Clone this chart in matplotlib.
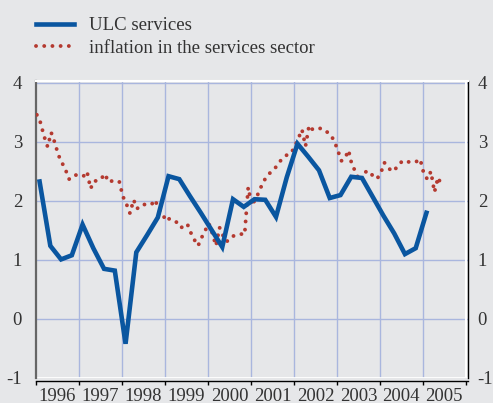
import numpy as np
import pandas as pd
import matplotlib
matplotlib.use("Agg")
from matplotlib import pyplot as plt

# ULC services, quarterly, 1996Q1 - 2005Q1
ulc = [2.33, 1.24, 1.01, 1.08,
       1.60, 1.20, 0.85, 0.82,
       -0.42, 1.13, 1.42, 1.72,
       2.42, 2.37, 2.08, 1.80,
       1.51, 1.22, 2.03, 1.90,
       2.03, 2.02, 1.73, 2.40,
       2.97, 2.75, 2.52, 2.05,
       2.10, 2.41, 2.39, 2.07,
       1.75, 1.45, 1.10, 1.20,
       1.80]

# inflation in the services sector, monthly, Jan 1996 - Jun 2005
infl = [3.46, 3.33, 3.10, 2.92, 3.16, 2.99, 2.78, 2.65, 2.53, 2.37, 2.43, 2.44,
        2.42, 2.42, 2.50, 2.21, 2.34, 2.34, 2.38, 2.46, 2.32, 2.34, 2.33, 2.33,
        2.08, 1.95, 1.79, 2.02, 1.87, 1.93, 1.94, 1.94, 1.94, 2.02, 1.86, 1.80,
        1.66, 1.70, 1.68, 1.64, 1.55, 1.56, 1.61, 1.46, 1.34, 1.24, 1.38, 1.50,
        1.62, 1.45, 1.24, 1.55, 1.41, 1.31, 1.38, 1.41, 1.43, 1.44, 1.43, 2.23,
        1.92, 2.03, 2.15, 2.30, 2.40, 2.47, 2.53, 2.59, 2.68, 2.74, 2.79, 2.81,
        2.93, 3.06, 3.21, 2.93, 3.28, 3.21, 3.21, 3.23, 3.22, 3.17, 3.12, 3.02,
        2.86, 2.68, 2.72, 2.86, 2.60, 2.50, 2.34, 2.46, 2.50, 2.50, 2.40, 2.38,
        2.47, 2.65, 2.58, 2.50, 2.54, 2.60, 2.68, 2.67, 2.66, 2.65, 2.67, 2.71,
        2.47, 2.37, 2.50, 2.15, 2.40, 2.26]

years = list(range(1996, 2006))
yticks = [-1, 0, 1, 2, 3, 4]

q = pd.period_range("1996Q1", periods=len(ulc), freq="Q")
x_ulc = q.year + (q.quarter - 1) / 4 + 1 / 12
m = pd.period_range("1996-01", periods=len(infl), freq="M")
x_infl = m.year + (m.month - 1) / 12 + 0.02

bg = "#e6e7e9"
blue = "#0a56a0"
red = "#b43a30"
gridc = "#a9b6de"
txt = "#333333"

plt.rcParams["font.family"] = ["Liberation Serif", "DejaVu Serif"]
plt.rcParams["font.size"] = 13.5

fig = plt.figure(figsize=(4.93, 4.03), dpi=100, facecolor=bg)
ax = fig.add_axes([36 / 493, 1 - 378 / 403, 432 / 493, (378 - 81.2) / 403])
ax.set_facecolor(bg)
ax.set_xlim(1996, 2006.05)
ax.set_ylim(-1, 4.03)

# grid
for y in yticks[1:]:
    ax.axhline(y, color=gridc, lw=1, zorder=1)
for yr in years[1:]:
    ax.axvline(yr, color=gridc, lw=1, zorder=1)
ax.axhline(-1, color="white", lw=2, zorder=1)
ax.axvline(2006, color="white", lw=1.5, zorder=1)

ax.plot(x_infl, infl, color=red, lw=2.8, linestyle=(0, (0.01, 2.1)),
        dash_capstyle="round", zorder=3, label="inflation in the services sector")
ax.plot(x_ulc, ulc, color=blue, lw=3.3, solid_joinstyle="miter", zorder=4,
        label="ULC services")

# spines
ax.spines["top"].set_color("white")
ax.spines["top"].set_linewidth(1.5)
ax.spines["left"].set_color("#666666")
ax.spines["left"].set_linewidth(1.6)
ax.spines["right"].set_color("black")
ax.spines["right"].set_linewidth(1.0)
ax.spines["bottom"].set_color("black")
ax.spines["bottom"].set_linewidth(1.0)
ax.spines["bottom"].set_position(("outward", 2.2))

ax.set_xticks(years + [2006])
ax.set_xticklabels([])
ax.set_xticks([y + 0.5 for y in years], minor=True)
ax.set_xticklabels([str(y) for y in years], minor=True, color=txt)
ax.tick_params(axis="x", which="major", direction="out", length=3, width=1,
               color="black")
ax.tick_params(axis="x", which="minor", length=0, pad=5)

ax.set_yticks(yticks)
ax.set_yticklabels([str(y) for y in yticks], color=txt)
ax.tick_params(axis="y", length=0, pad=10)

ax2 = ax.twinx()
ax2.set_ylim(ax.get_ylim())
ax2.set_yticks(yticks)
ax2.set_yticklabels([str(y) for y in yticks], color=txt)
ax2.tick_params(axis="y", length=0, pad=7)
for s in ax2.spines.values():
    s.set_visible(False)

h, l = ax.get_legend_handles_labels()
leg = ax.legend(h[::-1], l[::-1], loc="upper left",
                bbox_to_anchor=(36 / 493, 1 - 17 / 403),
                bbox_transform=fig.transFigure, frameon=False,
                borderpad=0, borderaxespad=0, handlelength=2.0,
                handletextpad=0.85, labelspacing=0.3)
for t in leg.get_texts():
    t.set_color(txt)

fig.savefig("out.png", dpi=100, facecolor=bg)
